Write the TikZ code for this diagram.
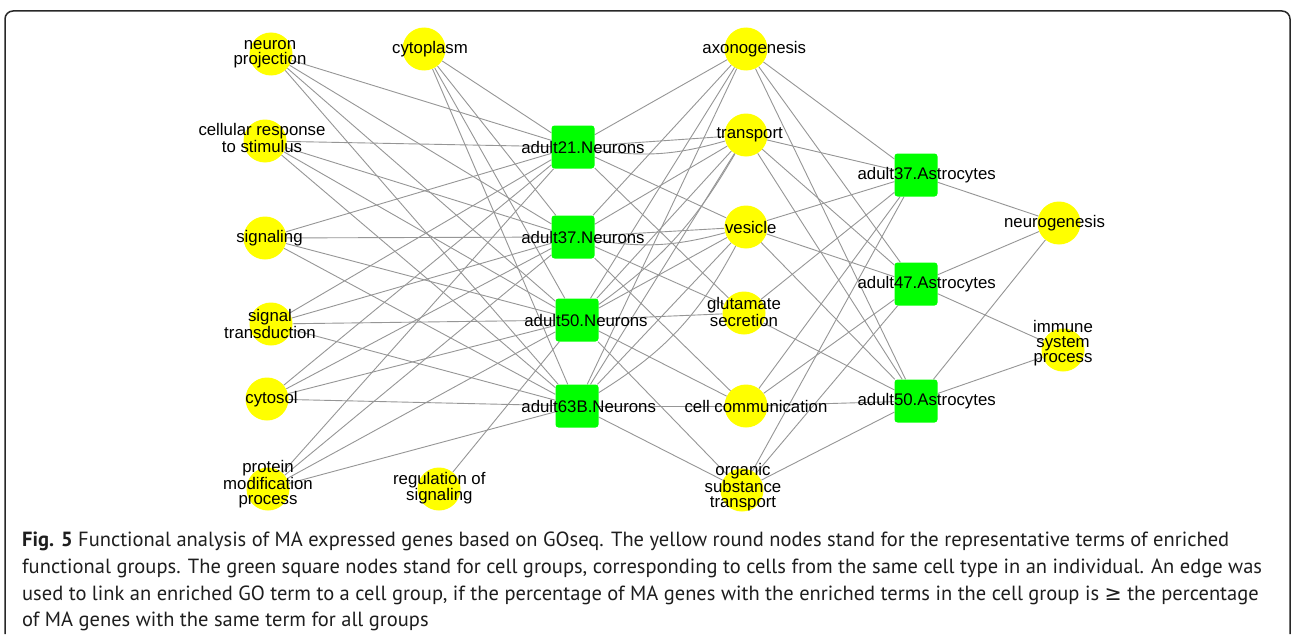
\documentclass[tikz,border=0pt]{standalone}
\usepackage{fontspec}
\setmainfont{Liberation Sans}
\newfontfamily\capfont{PT Sans}
\newfontfamily\symfont{DejaVu Sans}
\pgfdeclarelayer{back}
\pgfdeclarelayer{bg}
\pgfsetlayers{back,bg,main}
\definecolor{ylw}{RGB}{255,255,0}
\definecolor{grn}{RGB}{0,255,0}
\definecolor{edgecol}{RGB}{150,150,150}
\definecolor{framecol}{RGB}{40,40,40}
\definecolor{captext}{RGB}{30,30,30}
\tikzset{
 term/.style={circle, fill=ylw, minimum size=43pt, inner sep=0pt},
 cell/.style={rectangle, rounded corners=3pt, fill=grn, minimum size=43pt, inner sep=0pt},
 lbl/.style={font=\fontsize{16.8}{14.7}\selectfont, align=center, inner sep=0pt, text=black},
 edge/.style={draw=edgecol, line width=0.9pt},
 capline/.style={anchor=base west, inner sep=0pt, font=\capfont\fontsize{20.5}{24}\selectfont, text=captext}
}
\begin{document}
\begin{tikzpicture}[x=1pt,y=-1pt]
\useasboundingbox (0,0) rectangle (1292,634);
\begin{pgfonlayer}{back}
\fill[white] (0,0) rectangle (1292,634);
\end{pgfonlayer}
\draw[framecol, line width=1.5pt, rounded corners=8pt] (5,634) -- (5,11) -- (1290,11) -- (1290,634);
% left terms
\node[term] (np) at (271,54) {};
\node[term] (cp) at (424,49) {};
\node[term] (crs) at (265,141) {};
\node[term] (sig) at (265,238) {};
\node[term] (st) at (271,324) {};
\node[term] (cs) at (267,399) {};
\node[term] (pmp) at (268,489) {};
\node[term] (ros) at (439,489) {};
% neurons
\node[cell] (n21) at (573,147) {};
\node[cell] (n37) at (573,237) {};
\node[cell] (n50) at (577,320) {};
\node[cell] (n63) at (577,406) {};
% middle terms
\node[term] (ax) at (746,49) {};
\node[term] (tr) at (746,135) {};
\node[term] (ve) at (746,227) {};
\node[term] (gs) at (744,313) {};
\node[term] (cc) at (746,406) {};
\node[term] (ost) at (742,490) {};
% astrocytes
\node[cell] (a37) at (916,175) {};
\node[cell] (a47) at (916,284) {};
\node[cell] (a50) at (916,401) {};
% right terms
\node[term] (ng) at (1059,223) {};
\node[term] (isp) at (1063,350) {};
\begin{pgfonlayer}{bg}
\foreach \a/\b in {np/n21,np/n37,np/n50,np/n63,
  cp/n21,cp/n37,cp/n50,cp/n63,
  crs/n21,crs/n37,crs/n50,crs/n63,
  sig/n21,sig/n37,sig/n50,sig/n63,
  st/n21,st/n37,st/n50,st/n63,
  cs/n21,cs/n37,cs/n50,cs/n63,
  pmp/n21,pmp/n37,pmp/n50,pmp/n63,
  ros/n50,
  ax/n21,ax/n37,ax/n50,ax/n63,ax/a37,ax/a47,ax/a50,
  tr/n21,tr/n37,tr/n50,tr/n63,tr/a37,tr/a47,tr/a50,
  ve/n21,ve/n37,ve/n50,ve/n63,ve/a37,ve/a47,ve/a50,
  gs/n21,gs/n37,gs/n50,gs/a37,gs/a50,
  cc/n37,cc/n50,cc/n63,cc/a37,cc/a47,cc/a50,
  ost/n50,ost/n63,ost/a37,ost/a47,ost/a50,
  ng/a37,ng/a47,ng/a50,
  isp/a47,isp/a50}
  \draw[edge] (\a) -- (\b);
\draw[edge] (n21) to[bend right=12] (tr);
\draw[edge] (n37) to[bend right=12] (ve);
\draw[edge] (n63) to[bend right=15] (ve);
\draw[edge] (n50) to[bend right=12] (tr);
\end{pgfonlayer}
% labels
\node[lbl] (npL) at (270,54) {neuron\\projection};
\node[lbl] (cpL) at (430,49) {cytoplasm};
\node[lbl] (crsL) at (262,138) {cellular response\\to stimulus};
\node[lbl] (sigL) at (269.5,238) {signaling};
\node[lbl] (stL) at (270,324) {signal\\transduction};
\node[lbl] (csL) at (271.5,399) {cytosol};
\node[lbl] (pmpL) at (268,484) {protein\\modification\\process};
\node[lbl] (rosL) at (439.3,488) {regulation of\\signaling};
\node[lbl] (n21L) at (583,147) {adult21.Neurons};
\node[lbl] (n37L) at (583,237) {adult37.Neurons};
\node[lbl] (n50L) at (586,320) {adult50.Neurons};
\node[lbl] (n63L) at (588.7,406) {adult63B.Neurons};
\node[lbl] (axL) at (754.3,49) {axonogenesis};
\node[lbl] (trL) at (749.7,135) {transport};
\node[lbl] (veL) at (750.7,227) {vesicle};
\node[lbl] (gsL) at (744,312) {glutamate\\secretion};
\node[lbl] (ccL) at (756,406) {cell communication};
\node[lbl] (ostL) at (743,487) {organic\\substance\\transport};
\node[lbl] (a37L) at (926.7,175) {adult37.Astrocytes};
\node[lbl] (a47L) at (926.7,284) {adult47.Astrocytes};
\node[lbl] (a50L) at (926.7,401) {adult50.Astrocytes};
\node[lbl] (ngL) at (1054.5,223) {neurogenesis};
\node[lbl] (ispL) at (1063,343) {immune\\system\\process};
% caption
\node[capline] (cap1) at (22,546) {\textbf{Fig. 5} Functional analysis of MA expressed genes based on GOseq. The yellow round nodes stand for the representative terms of enriched};
\node[capline] (cap2) at (22,573) {functional groups. The green square nodes stand for cell groups, corresponding to cells from the same cell type in an individual. An edge was};
\node[capline] (cap3) at (22,600) {used to link an enriched GO term to a cell group, if the percentage of MA genes with the enriched terms in the cell group is {\symfont ≥} the percentage};
\node[capline] (cap4) at (22,626) {of MA genes with the same term for all groups};
\end{tikzpicture}
\end{document}
